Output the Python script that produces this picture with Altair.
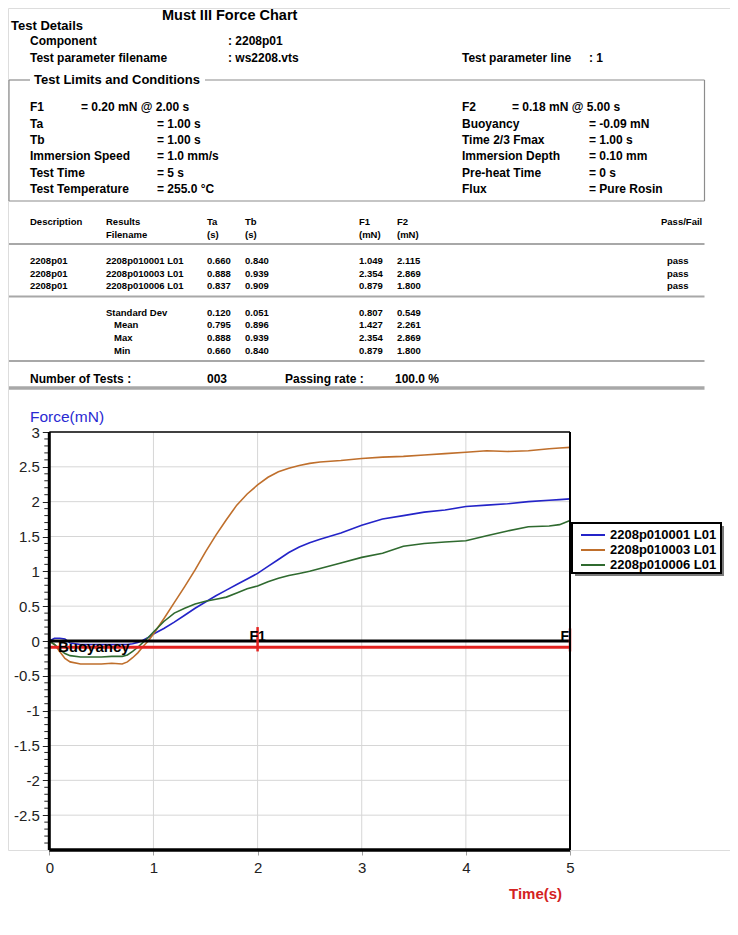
import altair as alt
import pandas as pd

FONT = "Liberation Sans"

# ---------------------------------------------------------------- data
TITLE = "Must III Force Chart"
component = "2208p01"
param_filename = "ws2208.vts"
param_line = "1"

f1_limit = "= 0.20 mN @ 2.00 s"
f2_limit = "= 0.18 mN @ 5.00 s"
cond_left_labels = ["Ta", "Tb", "Immersion Speed", "Test Time", "Test Temperature"]
cond_left_values = ["= 1.00 s", "= 1.00 s", "= 1.0 mm/s", "= 5 s", "= 255.0 °C"]
cond_right_labels = ["Buoyancy", "Time 2/3 Fmax", "Immersion Depth", "Pre-heat Time", "Flux"]
cond_right_values = ["= -0.09 mN", "= 1.00 s", "= 0.10 mm", "= 0 s", "= Pure Rosin"]

table_head1 = ["Description", "Results", "Ta", "Tb", "F1", "F2", "Pass/Fail"]
table_head2 = ["", "Filename", "(s)", "(s)", "(mN)", "(mN)", ""]
descriptions = ["2208p01", "2208p01", "2208p01"]
result_files = ["2208p010001 L01", "2208p010003 L01", "2208p010006 L01"]
ta_vals = ["0.660", "0.888", "0.837"]
tb_vals = ["0.840", "0.939", "0.909"]
f1_vals = ["1.049", "2.354", "0.879"]
f2_vals = ["2.115", "2.869", "1.800"]
pass_fail = ["pass", "pass", "pass"]
stat_names = ["Standard Dev", "Mean", "Max", "Min"]
stat_ta = ["0.120", "0.795", "0.888", "0.660"]
stat_tb = ["0.051", "0.896", "0.939", "0.840"]
stat_f1 = ["0.807", "1.427", "2.354", "0.879"]
stat_f2 = ["0.549", "2.261", "2.869", "1.800"]
n_tests = "003"
passing_rate = "100.0 %"

series_names = ["2208p010001 L01", "2208p010003 L01", "2208p010006 L01"]
series_colors = ["#2424c8", "#bf6f2c", "#2f6a2f"]

time_s = [0, 0.05, 0.1, 0.15, 0.2, 0.3, 0.4, 0.5, 0.6, 0.7, 0.75, 0.8, 0.85, 0.9, 0.95,
          1.0, 1.1, 1.2, 1.3, 1.4, 1.5, 1.6, 1.7, 1.8, 1.9, 2.0, 2.1, 2.2, 2.3, 2.4, 2.5,
          2.6, 2.8, 3.0, 3.2, 3.4, 3.6, 3.8, 4.0, 4.2, 4.4, 4.6, 4.8, 4.9, 5.0]
force_0001 = [0.0, 0.04, 0.04, 0.03, -0.03, -0.05, -0.05, -0.05, -0.05, -0.05, -0.05, -0.04, -0.02, 0.01, 0.05,
              0.10, 0.18, 0.27, 0.37, 0.47, 0.56, 0.65, 0.73, 0.81, 0.89, 0.97, 1.07, 1.17, 1.27, 1.35, 1.41,
              1.46, 1.55, 1.66, 1.75, 1.80, 1.85, 1.88, 1.93, 1.95, 1.97, 2.00, 2.02, 2.03, 2.04]
force_0003 = [0.0, -0.05, -0.15, -0.25, -0.30, -0.33, -0.33, -0.33, -0.32, -0.33, -0.30, -0.24, -0.17, -0.08, 0.0,
              0.10, 0.32, 0.55, 0.78, 1.02, 1.28, 1.52, 1.74, 1.95, 2.11, 2.24, 2.35, 2.43, 2.48, 2.52, 2.55,
              2.57, 2.59, 2.62, 2.64, 2.65, 2.67, 2.69, 2.71, 2.73, 2.72, 2.73, 2.76, 2.77, 2.78]
force_0006 = [0.0, -0.05, -0.12, -0.18, -0.21, -0.23, -0.23, -0.23, -0.22, -0.22, -0.20, -0.15, -0.09, -0.02, 0.05,
              0.13, 0.28, 0.40, 0.47, 0.53, 0.57, 0.60, 0.63, 0.69, 0.75, 0.79, 0.85, 0.90, 0.94, 0.97, 1.00,
              1.04, 1.12, 1.20, 1.26, 1.36, 1.40, 1.42, 1.44, 1.51, 1.58, 1.64, 1.65, 1.67, 1.73]

buoyancy_mN = -0.09
marker_times = [2.0, 5.0]
marker_forces = [0.20, 0.18]
marker_labels = ["F1", "F"]
y_ticks = [-2.5, -2, -1.5, -1, -0.5, 0, 0.5, 1, 1.5, 2, 2.5, 3]
x_ticks = [0, 1, 2, 3, 4, 5]

# ---------------------------------------------------------------- layout
W, H = 722, 842
PX = alt.Scale(domain=[8, 730], range=[0, W], nice=False, zero=False)
PY = alt.Scale(domain=[8, 850], range=[0, H], nice=False, zero=False)
TX = alt.Scale(domain=[0, 5], range=[41.3, 562], nice=False, zero=False)
TY = alt.Scale(domain=[-3, 3], range=[842, 424], nice=False, zero=False)

hdr = []
def put(text, x, y, size):
    hdr.append(dict(text=text, x=x, y=y, size=size))

put(TITLE, 162, 16, 14.5)
put("Test Details", 11, 25.5, 13)
put("Component", 30, 41, 12); put(": " + component, 228, 41, 12)
put("Test parameter filename", 30, 57.5, 12); put(": " + param_filename, 228, 57.5, 12)
put("Test parameter line", 462, 57.5, 12); put(": " + param_line, 589, 57.5, 12)
put("Test Limits and Conditions", 34, 80, 13)
put("F1", 30, 107, 12); put(f1_limit, 81, 107, 12)
put("F2", 462, 107, 12); put(f2_limit, 512, 107, 12)
cond_y = [123.5, 140, 156, 172.5, 189]
for i, y in enumerate(cond_y):
    put(cond_left_labels[i], 30, y, 12); put(cond_left_values[i], 157, y, 12)
    put(cond_right_labels[i], 462, y, 12); put(cond_right_values[i], 589, y, 12)

col_x = [30, 106, 207, 245, 359, 397, 661]
for j, t in enumerate(table_head1):
    put(t, col_x[j], 222, 9.5)
for j, t in enumerate(table_head2):
    if t:
        put(t, col_x[j], 234.5, 9.5)
row_y = [261, 273.5, 286]
for i, y in enumerate(row_y):
    for j, v in enumerate([descriptions[i], result_files[i], ta_vals[i], tb_vals[i], f1_vals[i], f2_vals[i]]):
        put(v, col_x[j], y, 9.5)
    put(pass_fail[i], 667, y, 9.5)
stat_y = [312.5, 325, 338, 351]
for i, y in enumerate(stat_y):
    put(stat_names[i], 106 if i == 0 else 114, y, 9.5)
    for j, v in enumerate([stat_ta[i], stat_tb[i], stat_f1[i], stat_f2[i]]):
        put(v, col_x[j + 2], y, 9.5)
put("Number of Tests :", 30, 378.5, 12); put(n_tests, 207, 378.5, 12)
put("Passing rate :", 285, 378.5, 12); put(passing_rate, 395, 378.5, 12)
hdr_df = pd.DataFrame(hdr)

rules = [
    dict(x=9, x2=9, y=80, y2=201, w=1.2, c="#8c8c8c"),
    dict(x=704.5, x2=704.5, y=80, y2=201, w=1.2, c="#8c8c8c"),
    dict(x=9, x2=704.5, y=201, y2=201, w=1.2, c="#8c8c8c"),
    dict(x=9, x2=30, y=80, y2=80, w=1.2, c="#8c8c8c"),
    dict(x=205, x2=704.5, y=80, y2=80, w=1.2, c="#8c8c8c"),
    dict(x=9, x2=704.5, y=244, y2=244, w=2, c="#a8a8a8"),
    dict(x=9, x2=704.5, y=296.5, y2=296.5, w=2, c="#a8a8a8"),
    dict(x=9, x2=704.5, y=361, y2=361, w=2, c="#a8a8a8"),
    dict(x=9, x2=704.5, y=388, y2=388, w=3.5, c="#a8a8a8"),
]
rules_df = pd.DataFrame(rules)

header_text = alt.Chart(hdr_df).mark_text(
    align="left", baseline="middle", font=FONT, fontWeight="bold", color="black"
).encode(
    x=alt.X("x:Q", scale=PX, axis=None),
    y=alt.Y("y:Q", scale=PY, axis=None),
    text="text:N",
    size=alt.Size("size:Q", scale=None),
)

header_rules = alt.Chart(rules_df).mark_rule().encode(
    x=alt.X("x:Q", scale=PX, axis=None), x2="x2:Q",
    y=alt.Y("y:Q", scale=PY, axis=None), y2="y2:Q",
    strokeWidth=alt.StrokeWidth("w:Q", scale=None),
    color=alt.Color("c:N", scale=None),
)

# legend frame + shadow
shadow = alt.Chart(pd.DataFrame([dict(x=575, x2=724, y=526, y2=576)])).mark_rect(color="#7a7a7a").encode(
    x=alt.X("x:Q", scale=PX, axis=None), x2="x2:Q",
    y=alt.Y("y:Q", scale=PY, axis=None), y2="y2:Q")
legend_box = alt.Chart(pd.DataFrame([dict(x=572, x2=721, y=523, y2=573)])).mark_rect(
    fill="white", stroke="black", strokeWidth=2).encode(
    x=alt.X("x:Q", scale=PX, axis=None), x2="x2:Q",
    y=alt.Y("y:Q", scale=PY, axis=None), y2="y2:Q")

force_title = alt.Chart(pd.DataFrame([dict(text="Force(mN)", x=30, y=417)])).mark_text(
    align="left", baseline="middle", font=FONT, fontSize=15.5, color="#2a2ad2"
).encode(x=alt.X("x:Q", scale=PX, axis=None), y=alt.Y("y:Q", scale=PY, axis=None), text="text:N")
time_title = alt.Chart(pd.DataFrame([dict(text="Time(s)", x=509, y=894)])).mark_text(
    align="left", baseline="middle", font=FONT, fontSize=15, fontWeight="bold", color="#d42222"
).encode(x=alt.X("x:Q", scale=PX, axis=None), y=alt.Y("y:Q", scale=PY, axis=None), text="text:N")

# ---------------------------------------------------------------- plot
grid_v = pd.DataFrame({"t": x_ticks[1:-1], "v": -3, "v2": 3})
grid_h = pd.DataFrame({"v": [v for v in y_ticks if v not in (0, 3)], "t": 0, "t2": 5})
gridv = alt.Chart(grid_v).mark_rule(color="#d6d6d6", strokeWidth=1).encode(
    x=alt.X("t:Q", scale=TX, axis=None), y=alt.Y("v:Q", scale=TY, axis=None), y2="v2:Q")
gridh = alt.Chart(grid_h).mark_rule(color="#d6d6d6", strokeWidth=1).encode(
    x=alt.X("t:Q", scale=TX, axis=None), x2="t2:Q", y=alt.Y("v:Q", scale=TY, axis=None))

curves_df = pd.concat([
    pd.DataFrame({"t": time_s, "force": f, "series": n})
    for n, f in zip(series_names, [force_0001, force_0003, force_0006])
])
curves = alt.Chart(curves_df).mark_line(strokeWidth=1.6).encode(
    x=alt.X("t:Q", scale=TX, axis=None),
    y=alt.Y("force:Q", scale=TY, axis=None),
    color=alt.Color("series:N", scale=alt.Scale(domain=series_names, range=series_colors),
                    legend=alt.Legend(orient="none", legendX=578, legendY=520, title=None,
                                      symbolType="M-2,0H2", symbolSize=144, symbolStrokeWidth=2,
                                      labelFont=FONT, labelFontSize=13, labelFontWeight="bold",
                                      labelColor="black", rowPadding=1, labelOffset=10, padding=0)),
    detail="series:N",
)

zero_line = alt.Chart(pd.DataFrame({"t": [0], "t2": [5], "v": [0]})).mark_rule(
    color="black", strokeWidth=3).encode(
    x=alt.X("t:Q", scale=TX, axis=None), x2="t2:Q", y=alt.Y("v:Q", scale=TY, axis=None))
buoy_line = alt.Chart(pd.DataFrame({"t": [0], "t2": [5], "v": [buoyancy_mN]})).mark_rule(
    color="#e42320", strokeWidth=3).encode(
    x=alt.X("t:Q", scale=TX, axis=None), x2="t2:Q", y=alt.Y("v:Q", scale=TY, axis=None))
markers_df = pd.DataFrame({"t": marker_times, "v": marker_forces,
                           "v2": [buoyancy_mN - 0.06] * 2, "label": marker_labels})
marker_lines = alt.Chart(markers_df).mark_rule(color="#e42320", strokeWidth=2.5).encode(
    x=alt.X("t:Q", scale=TX, axis=None), y=alt.Y("v:Q", scale=TY, axis=None), y2="v2:Q")
marker_f1 = alt.Chart(markers_df.iloc[:1]).mark_text(
    font=FONT, fontWeight="bold", fontSize=14, align="center", baseline="middle", dy=-4, color="black"
).encode(x=alt.X("t:Q", scale=TX, axis=None), y=alt.Y("zero:Q", scale=TY, axis=None), text="label:N"
).transform_calculate(zero="0")
marker_f2 = alt.Chart(markers_df.iloc[1:]).mark_text(
    font=FONT, fontWeight="bold", fontSize=14, align="right", baseline="middle", dy=-4, dx=-1, color="black"
).encode(x=alt.X("t:Q", scale=TX, axis=None), y=alt.Y("zero:Q", scale=TY, axis=None), text="label:N"
).transform_calculate(zero="0")
buoy_text = alt.Chart(pd.DataFrame({"t": [0.083], "v": [buoyancy_mN], "label": ["Buoyancy"]})).mark_text(
    font=FONT, fontWeight="bold", fontSize=15, align="left", baseline="middle", color="black"
).encode(x=alt.X("t:Q", scale=TX, axis=None), y=alt.Y("v:Q", scale=TY, axis=None), text="label:N")

minor = [round(-3 + 0.1 * k, 1) for k in range(1, 60) if k % 5 != 0]
minor_df = pd.DataFrame({"t": 0, "t2": 0, "v": minor})
minor_ticks = alt.Chart(minor_df).mark_rule(color="#222222", strokeWidth=1, x2Offset=-5).encode(
    x=alt.X("t:Q", scale=TX, axis=None), x2="t2:Q", y=alt.Y("v:Q", scale=TY, axis=None))

frame_df = pd.DataFrame([
    dict(t=0, t2=5, v=3, v2=3, w=1.5),
    dict(t=5, t2=5, v=-3, v2=3, w=2),
    dict(t=0, t2=0, v=-3, v2=3, w=3),
    dict(t=0, t2=5, v=-3, v2=-3, w=3.5),
])
frame = alt.Chart(frame_df).mark_rule(color="black").encode(
    x=alt.X("t:Q", scale=TX,
            axis=alt.Axis(values=x_ticks, orient="bottom", domain=False, grid=False, tickSize=5,
                          tickColor="#a0a0a0", labelFont=FONT, labelFontSize=15, labelColor="#222222",
                          labelPadding=5, labelFlush=False, format="~g", title=None)),
    x2="t2:Q",
    y=alt.Y("v:Q", scale=TY,
            axis=alt.Axis(values=y_ticks, orient="left", offset=-41.3, domain=False, grid=False,
                          tickSize=7, tickColor="#222222", labelFont=FONT, labelFontSize=15,
                          labelColor="#222222", labelPadding=3, labelFlush=False, format="~g",
                          labelExpr="replace(datum.label, '\u2212', '-')",
                          title=None)),
    y2="v2:Q",
    strokeWidth=alt.StrokeWidth("w:Q", scale=None),
)

chart = alt.layer(
    header_rules, header_text, shadow, legend_box, force_title, time_title,
    gridv, gridh, curves, zero_line, buoy_line, marker_lines, minor_ticks, frame,
    marker_f1, marker_f2, buoy_text,
).resolve_scale(
    x="independent", y="independent", color="independent", size="independent",
    strokeWidth="independent",
).properties(
    width=W, height=H,
    autosize=alt.AutoSizeParams(type="none"),
    padding={"left": 0, "top": 0, "right": 0, "bottom": 76},
).configure_view(stroke="transparent", strokeWidth=0).configure(font=FONT)

chart.save("out.html", embed_options={"renderer": "svg", "actions": False})
